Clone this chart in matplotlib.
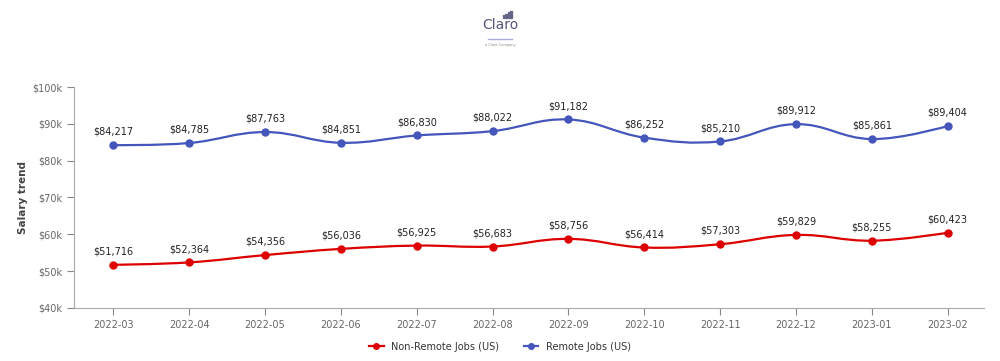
import matplotlib
matplotlib.use("Agg")
import matplotlib.pyplot as plt
from matplotlib.path import Path
from matplotlib.patches import PathPatch
from matplotlib.lines import Line2D
import numpy as np

months = ["2022-03", "2022-04", "2022-05", "2022-06", "2022-07", "2022-08",
          "2022-09", "2022-10", "2022-11", "2022-12", "2023-01", "2023-02"]
non_remote = [51716, 52364, 54356, 56036, 56925, 56683, 58756, 56414, 57303, 59829, 58255, 60423]
remote = [84217, 84785, 87763, 84851, 86830, 88022, 91182, 86252, 85210, 89912, 85861, 89404]
series_names = ["Non-Remote Jobs (US)", "Remote Jobs (US)"]
colors = ["#dd0000", "#4455bb"]

def spline_path(xs, ys, smoothing=1.5):
    verts = [(xs[0], ys[0])]
    codes = [Path.MOVETO]
    n = len(xs)
    def ctrl(i):
        if i == 0 or i == n - 1:
            return (xs[i], ys[i]), (xs[i], ys[i])
        denom = smoothing + 1
        lx = (smoothing * xs[i] + xs[i - 1]) / denom
        ly = (smoothing * ys[i] + ys[i - 1]) / denom
        rx = (smoothing * xs[i] + xs[i + 1]) / denom
        ry = (smoothing * ys[i] + ys[i + 1]) / denom
        corr = 0
        if rx != lx:
            corr = ((ry - ly) * (rx - xs[i])) / (rx - lx) + ys[i] - ry
        ly += corr
        ry += corr
        return (lx, ly), (rx, ry)
    cps = [ctrl(i) for i in range(n)]
    for i in range(1, n):
        c1 = cps[i - 1][1]
        c2 = cps[i][0]
        verts += [c1, c2, (xs[i], ys[i])]
        codes += [Path.CURVE4] * 3
    return Path(verts, codes)

fig = plt.figure(figsize=(10, 3.61), dpi=100)
ax = fig.add_axes([0.074, 0.147, 0.91, 0.612])
x = np.arange(len(months))

for vals, c in zip([non_remote, remote], colors):
    p = spline_path(list(x.astype(float)), list(map(float, vals)))
    ax.add_patch(PathPatch(p, facecolor="none", edgecolor=c, lw=1.6, zorder=2))
    ax.plot(x, vals, "o", color=c, ms=5, zorder=3)
    for xi, v in zip(x, vals):
        ax.annotate(f"${v:,}", (xi, v), xytext=(0, 6), textcoords="offset points",
                    ha="center", va="bottom", fontsize=7, color="#222222", zorder=4)

ax.set_xlim(-0.52, 11.48)
ax.set_ylim(40000, 100000)
ax.set_yticks(range(40000, 100001, 10000))
ax.set_yticklabels([f"${v//1000}k" for v in range(40000, 100001, 10000)])
ax.set_xticks(x)
ax.set_xticklabels(months)
ax.tick_params(axis="both", labelsize=7, colors="#888888", labelcolor="#666666", length=5)
for s in ["top", "right"]:
    ax.spines[s].set_visible(False)
for s in ["left", "bottom"]:
    ax.spines[s].set_color("#aaaaaa")
ax.set_ylabel("Salary trend", fontsize=7.5, color="#444444", fontweight="bold", labelpad=3)

handles = [Line2D([0], [0], color=c, marker="o", ms=4, lw=1.6) for c in colors]
fig.legend(handles, series_names, loc="center", bbox_to_anchor=(0.5, 0.04), ncol=2,
           frameon=False, fontsize=7, handlelength=1.5, columnspacing=2.5, labelcolor="#333333")

# logo
fig.text(0.5, 0.93, "Claro", ha="center", va="center", fontsize=10, color="#555577")
for i, h in enumerate([2, 3, 4, 5]):
    fig.patches.append(plt.Rectangle((0.503 + i * 0.0025, 0.95), 0.0012, h * 0.004,
                                     transform=fig.transFigure, color="#666688"))
fig.lines.append(Line2D([0.488, 0.512], [0.893, 0.893], transform=fig.transFigure,
                        color="#aaaadd", lw=1))
fig.text(0.5, 0.875, "a Claro Company", ha="center", va="center", fontsize=2.5, color="#888888")

fig.savefig("out.png", dpi=100, facecolor="white")
